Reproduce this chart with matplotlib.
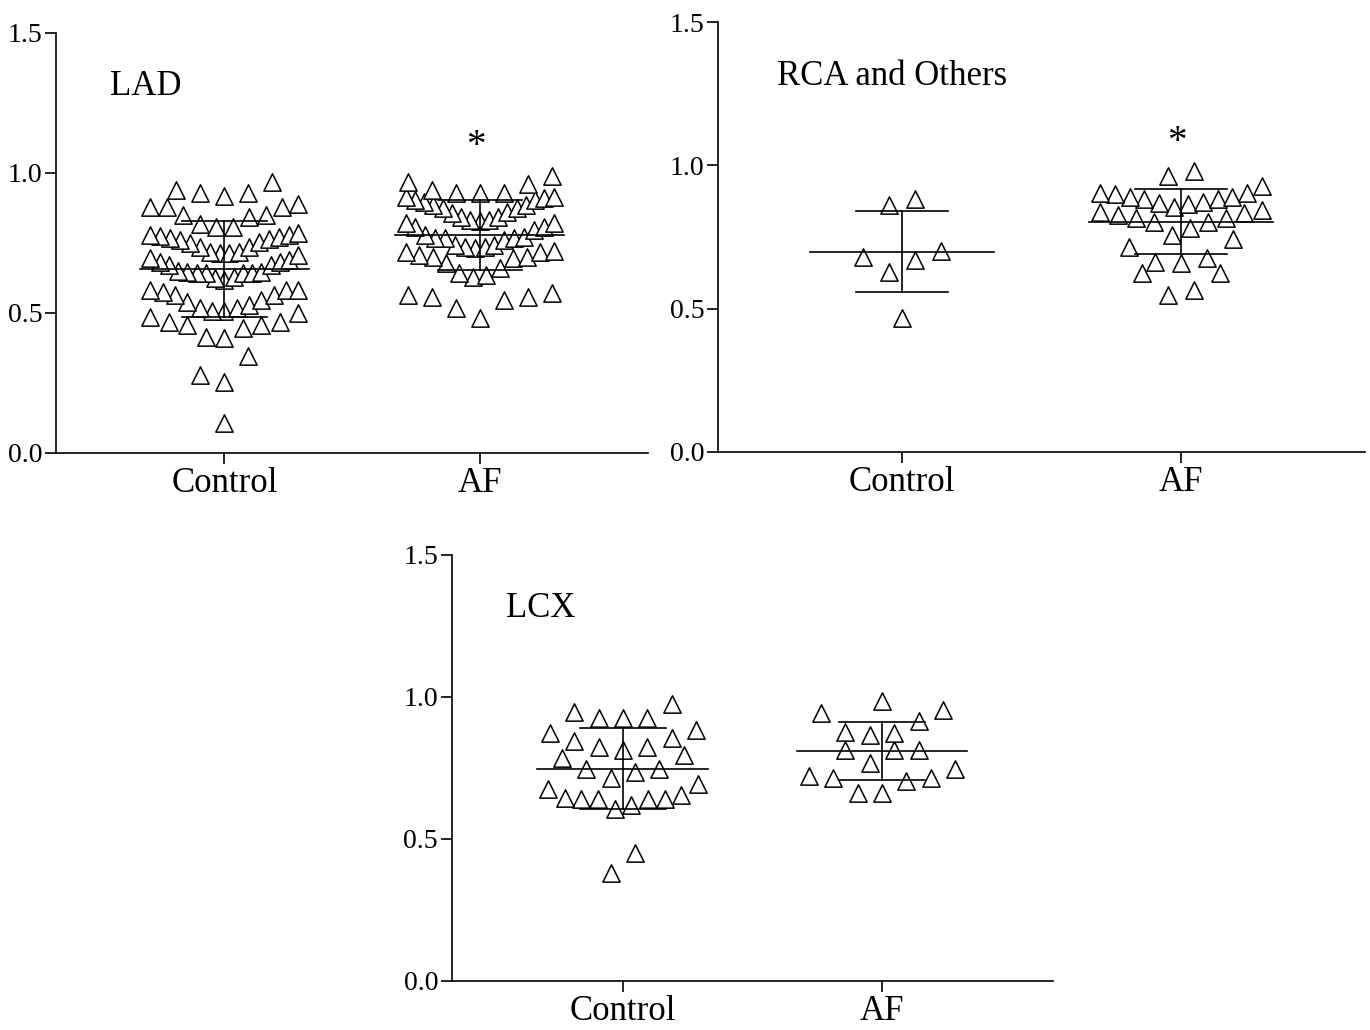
import numpy as np
import matplotlib
matplotlib.use("Agg")
import matplotlib.pyplot as plt

plt.rcParams['font.family'] = ['Liberation Serif', 'DejaVu Serif']

# valores (cada triangulo es un paciente)
groups = ["Control", "AF"]

lad_control = [0.107, 0.254, 0.279, 0.346,
               0.500, 0.468, 0.457, 0.446, 0.411, 0.414, 0.457, 0.468, 0.486,
               0.582, 0.575, 0.564, 0.539, 0.518, 0.506, 0.506, 0.518, 0.529, 0.546, 0.564, 0.582, 0.582,
               0.707, 0.689, 0.682, 0.671, 0.646, 0.643, 0.643, 0.629, 0.618, 0.625, 0.643, 0.643, 0.646,
               0.650, 0.671, 0.682, 0.696,
               0.786, 0.775, 0.771, 0.761, 0.750, 0.736, 0.718, 0.713, 0.713, 0.718, 0.736, 0.754, 0.764,
               0.768, 0.779, 0.779,
               0.879, 0.879, 0.879, 0.889, 0.850, 0.843, 0.850, 0.818, 0.808, 0.808,
               0.968, 0.940, 0.929, 0.918, 0.929]
lad_af = [0.989, 0.961, 0.929, 0.929, 0.929, 0.939, 0.968,
          0.914, 0.904, 0.896, 0.886, 0.875, 0.861, 0.843, 0.832, 0.828, 0.832, 0.843, 0.857, 0.875,
          0.886, 0.904, 0.911, 0.914,
          0.821, 0.807, 0.779, 0.768, 0.768, 0.743, 0.736, 0.732, 0.736, 0.743, 0.761, 0.768, 0.771,
          0.796, 0.807, 0.821,
          0.720, 0.718, 0.700, 0.696, 0.661, 0.636, 0.629, 0.643, 0.679, 0.700, 0.707, 0.718,
          0.564, 0.557, 0.546, 0.482, 0.518, 0.557, 0.571]

rca_control = [0.862, 0.882, 0.700, 0.670, 0.680, 0.628, 0.467]
rca_af = [0.963, 0.980,
          0.928, 0.903, 0.889, 0.882, 0.868, 0.865, 0.855, 0.872, 0.882, 0.889, 0.900, 0.903,
          0.834, 0.816, 0.802, 0.827, 0.781, 0.802, 0.816, 0.837, 0.844,
          0.757, 0.743, 0.715,
          0.663, 0.659, 0.677, 0.624, 0.624,
          0.548, 0.565]

lcx_control = [0.975, 0.926, 0.926, 0.926, 0.947, 0.884, 0.874, 0.846, 0.825, 0.814, 0.825, 0.856,
               0.796, 0.786, 0.747, 0.716, 0.695, 0.737, 0.747, 0.677, 0.656, 0.639, 0.639, 0.618,
               0.607, 0.639, 0.639, 0.646, 0.449, 0.379]
lcx_af = [0.954, 0.986, 0.944, 0.916, 0.877, 0.874, 0.867, 0.814, 0.814, 0.814, 0.768, 0.747,
          0.716, 0.705, 0.716, 0.723, 0.663, 0.663]

yticks = [0.0, 0.5, 1.0, 1.5]


def swarm(vals, center, h=0.093, step=0.094, cap=0.29):
    # filas tipo Prism: se agrupan valores cercanos y se reparten desde el centro
    v = np.sort(np.asarray(vals))
    xs, ys = [], []
    i = 0
    while i < len(v):
        j = i
        while j < len(v) and v[j] < v[i] + h:
            j += 1
        row = v[i:j]
        n = len(row)
        s = step
        if n > 1 and (n - 1) * step > 2 * cap:
            s = 2 * cap / (n - 1)
        for k, val in enumerate(row):
            if n % 2:
                m = (k + 1) // 2
                off = -m if k % 2 else m
            else:
                m = k // 2 + 0.5
                off = -m if k % 2 == 0 else m
            xs.append(center + off * s)
            ys.append(val)
        i = j
    return np.array(xs), np.array(ys)


def panel(ax, title, ctrl, af, star=None):
    for pos, vals in enumerate([ctrl, af]):
        x, y = swarm(vals, pos)
        ax.scatter(x, y, marker='^', s=155, facecolor='white', edgecolor='black',
                   linewidth=1.1, zorder=2)
        m = np.mean(vals)
        sd = np.std(vals, ddof=1)
        ax.plot([pos - 0.33, pos + 0.33], [m, m], color='black', lw=1.2, zorder=3)
        ax.plot([pos - 0.165, pos + 0.165], [m + sd, m + sd], color='black', lw=1.2, zorder=3)
        ax.plot([pos - 0.165, pos + 0.165], [m - sd, m - sd], color='black', lw=1.2, zorder=3)
        ax.plot([pos, pos], [m - sd, m + sd], color='black', lw=1.2, zorder=3)
    if star is not None:
        ax.text(0.985, star, '*', fontsize=28, ha='center', va='baseline')
    ax.text(-0.45, 1.28, title, fontsize=25, ha='left', va='baseline')
    ax.set_xlim(-0.66, 1.66)
    ax.set_ylim(0, 1.5)
    ax.set_yticks(yticks)
    ax.set_yticklabels([f"{t:.1f}" for t in yticks], fontsize=20)
    ax.set_xticks([0, 1])
    ax.set_xticklabels(groups, fontsize=25)
    ax.spines['top'].set_visible(False)
    ax.spines['right'].set_visible(False)
    for sp in ['left', 'bottom']:
        ax.spines[sp].set_linewidth(1.2)
    ax.tick_params(axis='both', direction='out', length=8, width=1.2, pad=2)
    ax.patch.set_alpha(0)


fig = plt.figure(figsize=(13.7, 10.3), dpi=100)
ax1 = fig.add_axes([0.0409, 0.5602, 0.4321, 0.4078])
ax2 = fig.add_axes([0.5241, 0.5612, 0.4723, 0.4174])
ax3 = fig.add_axes([0.3299, 0.0476, 0.4387, 0.4136])

panel(ax1, "LAD", lad_control, lad_af, star=1.06)
panel(ax2, "RCA and Others", rca_control, rca_af, star=1.045)
panel(ax3, "LCX", lcx_control, lcx_af)

fig.savefig("out.png", dpi=100, facecolor='white')
